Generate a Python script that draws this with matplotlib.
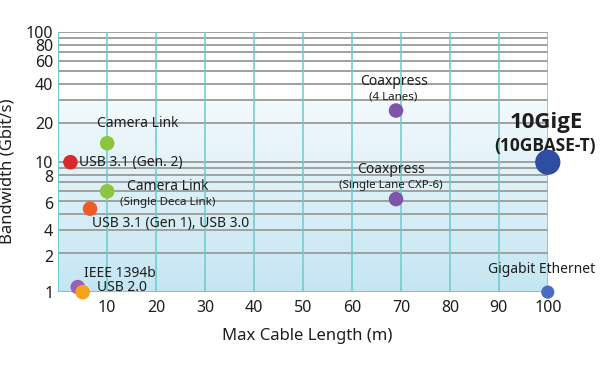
import numpy as np
import matplotlib
matplotlib.use("Agg")
import matplotlib.pyplot as plt
from matplotlib.colors import LinearSegmentedColormap

plt.rcParams['font.family'] = ['Noto Sans', 'DejaVu Sans']

# interfaces: max cable length (m), bandwidth (Gbit/s)
names = ['USB 3.1 (Gen. 2)', 'Camera Link', 'Camera Link Deca', 'USB 3.1 (Gen 1), USB 3.0',
         'IEEE 1394b', 'USB 2.0', 'Coaxpress 4', 'Coaxpress 1', '10GigE', 'Gigabit Ethernet']
length = [2.5, 10, 10, 6.5, 4, 5, 69, 69, 100, 100]
bandwidth = [10, 14, 6.8, 5.5, 1.1, 1.0, 25, 6.25, 10, 1.0]
colors = ['#d7282a', '#8cc63e', '#8cc63e', '#f15a24', '#9b5fb5', '#f7a21b',
          '#7e55a8', '#7e55a8', '#2f4ea3', '#4a6cc2']
sizes = [110, 110, 110, 110, 110, 110, 110, 110, 330, 90]

xticks = [10, 20, 30, 40, 50, 60, 70, 80, 90, 100]
yticks = [1, 2, 4, 6, 8, 10, 20, 40, 60, 80, 100]
grid_y = [2, 3, 4, 5, 6, 7, 8, 9, 10, 20, 30, 40, 50, 60, 70, 80, 90, 100]

# the printed axis is not a clean log axis below 10: labels sit where the original put them
# (position in decades from the bottom)
lab_val = [1, 2, 4, 6, 8, 10, 100]
lab_pos = [0, 0.281, 0.477, 0.6875, 0.891, 1.0, 2.0]


def fwd(v):
    return np.interp(np.log10(np.clip(v, 1e-6, None)), np.log10(lab_val), lab_pos)


def inv(p):
    return 10 ** np.interp(p, lab_pos, np.log10(lab_val))


rect = [0.097, 0.204, 0.816, 0.708]
fig = plt.figure(figsize=(6, 3.67), dpi=100)

# background axes: gradient + log grid
bg = fig.add_axes(rect)
cmap = LinearSegmentedColormap.from_list('bg', [(0, '#c4e6f3'), (0.72, '#f2f9fc'), (0.76, 'white'), (1, 'white')])
grad = np.linspace(0, 1, 256).reshape(-1, 1)
bg.imshow(grad, cmap=cmap, aspect='auto', extent=[0, 1, 0, 1], origin='lower',
          transform=bg.transAxes, zorder=0)
bg.set_yscale('log')
bg.set_xlim(0, 100)
bg.set_ylim(1, 100)
for v in grid_y:
    bg.axhline(v, color='#a0a0a0', lw=1.4, zorder=1)
for v in xticks:
    bg.axvline(v, color='#6ccacb', lw=1.1, zorder=1)
bg.axvline(0, color='#6ccacb', lw=1.4, zorder=1)
bg.axhline(1, color='#6ccacb', lw=1.4, zorder=1)
bg.axis('off')

# data axes
ax = fig.add_axes(rect)
ax.patch.set_visible(False)
ax.set_yscale('function', functions=(fwd, inv))
ax.set_xlim(0, 100)
ax.set_ylim(1, 100)
for s in ax.spines.values():
    s.set_visible(False)

ax.set_xticks(xticks)
ax.set_xticklabels([str(t) for t in xticks])
ax.set_yticks(yticks)
ax.set_yticklabels([str(t) for t in yticks])
ax.yaxis.set_minor_locator(plt.NullLocator())
ax.tick_params(length=0, labelsize=11.5, colors='#1e1e1e')
ax.tick_params(axis='y', pad=3.5)
ax.tick_params(axis='x', pad=6)

ax.set_xlabel('Max Cable Length (m)', fontsize=12, color='#1e1e1e')
ax.set_ylabel('Bandwidth (Gbit/s)', fontsize=12, color='#1e1e1e')
ax.xaxis.set_label_coords(0.508, -0.137)
ax.yaxis.set_label_coords(-0.087, 0.465)

ax.scatter(length, bandwidth, s=sizes, c=colors, zorder=5, clip_on=False, edgecolors='none')

tc = '#1e1e1e'
fs = 10
small = 8.3
bold = ['Open Sans', 'DejaVu Sans']


def lab(text, i, dx, dy, ha='left', size=fs, **kw):
    ax.annotate(text, (length[i], bandwidth[i]), xytext=(dx, dy), textcoords='offset points',
                ha=ha, va='center', fontsize=size, color=tc, **kw)


lab('USB 3.1 (Gen. 2)', 0, 6.5, 0)
lab('Camera Link', 1, -7.5, 14.5)
lab('Camera Link', 2, 14, 3.6)
lab('(Single Deca Link)', 2, 9.4, -8, size=small)
lab('USB 3.1 (Gen 1), USB 3.0', 3, 1.4, -11)
lab('IEEE 1394b', 4, 4.3, 10)
lab('USB 2.0', 5, 10, 3.6)
lab('Coaxpress', 6, -1.8, 21, ha='center')
lab('(4 Lanes)', 6, -1.8, 9.4, ha='center', size=small)
lab('Coaxpress', 7, -3.6, 21.6, ha='center')
lab('(Single Lane CXP-6)', 7, -4, 10, ha='center', size=small)
lab('10GigE', 8, -1, 28.5, ha='center', size=16, fontweight='bold', family=bold)
lab('(10GBASE-T)', 8, -2, 11.5, ha='center', size=12.5, fontweight='bold', family=bold)
lab('Gigabit Ethernet', 9, -4.3, 16.5, ha='center')

fig.savefig('out.png', dpi=100)
